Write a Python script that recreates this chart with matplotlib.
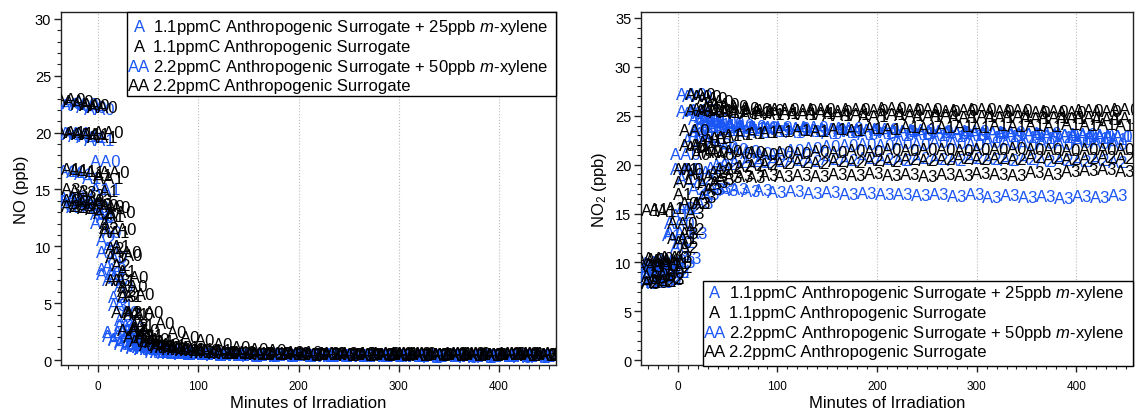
import matplotlib
matplotlib.use("Agg")
import matplotlib.pyplot as plt
from matplotlib.patches import Rectangle
from matplotlib.ticker import MultipleLocator

plt.rcParams['font.family'] = ['Liberation Sans', 'DejaVu Sans']
plt.rcParams['mathtext.fontset'] = 'custom'
plt.rcParams['mathtext.rm'] = 'Liberation Sans'
plt.rcParams['mathtext.it'] = 'Liberation Sans:italic'

BLUE = '#1a55f5'

# sampling times (minutes of irradiation)
t_blue = [-30, -22, -14, -6, 2, 8, 14, 20, 26, 32, 38, 44, 52, 62, 74, 86, 100,
          118, 136, 154, 172, 190, 208, 226, 244, 262, 280, 298, 316, 334, 352, 370, 388, 406, 424, 442]
t_black = [-27, -19, -11, -3, 5, 11, 17, 23, 29, 35, 41, 47, 56, 67, 79, 92, 107,
           125, 143, 161, 179, 197, 215, 233, 251, 269, 287, 305, 323, 341, 359, 377, 395, 413, 431, 449]

# NO (ppb)
no_blue_a0 = [13.9, 14.0, 13.8, 13.7, 13.4, 12.6, 11.2, 9.0, 6.5, 4.2, 2.8, 1.9, 1.3, 1.0, 0.8, 0.7, 0.6,
              0.5, 0.5, 0.4, 0.5, 0.4, 0.4, 0.5, 0.4, 0.4, 0.3, 0.4, 0.4, 0.3, 0.4, 0.3, 0.4, 0.3, 0.4, 0.4]
no_blue_a1 = [16.6, 16.5, 16.3, 16.0, 15.0, 12.5, 9.8, 7.2, 4.8, 3.0, 2.0, 1.4, 1.1, 0.9, 0.7, 0.6, 0.5,
              0.5, 0.4, 0.4, 0.3, 0.4, 0.4, 0.3, 0.4, 0.3, 0.3, 0.4, 0.3, 0.4, 0.3, 0.3, 0.4, 0.3, 0.3, 0.4]
no_blue_a2 = [13.5, 13.4, 13.6, 13.4, 12.8, 10.5, 8.2, 5.5, 3.5, 2.2, 1.5, 1.1, 0.9, 0.7, 0.6, 0.5, 0.5,
              0.4, 0.4, 0.3, 0.4, 0.3, 0.3, 0.4, 0.3, 0.3, 0.4, 0.3, 0.3, 0.2, 0.3, 0.3, 0.2, 0.3, 0.3, 0.2]
no_blue_a3 = [14.2, 14.3, 14.0, 13.6, 12.0, 9.5, 7.0, 4.8, 3.0, 2.0, 1.4, 1.1, 0.9, 0.7, 0.6, 0.5, 0.5,
              0.4, 0.4, 0.4, 0.3, 0.4, 0.3, 0.3, 0.4, 0.3, 0.3, 0.3, 0.4, 0.3, 0.3, 0.2, 0.3, 0.3, 0.2, 0.3]
no_blue_aa0 = [22.6, 22.4, 22.5, 22.2, 22.0, 17.5, 8.0, 2.4, 1.8, 1.5, 1.3, 1.1, 0.9, 0.8, 0.7, 0.6, 0.5,
               0.5, 0.4, 0.5, 0.4, 0.4, 0.5, 0.4, 0.4, 0.3, 0.4, 0.4, 0.3, 0.4, 0.4, 0.3, 0.4, 0.3, 0.4, 0.3]
no_blue_aa1 = [19.8, 19.9, 19.7, 19.6, 19.3, 15.0, 7.5, 2.1, 1.7, 1.4, 1.2, 1.0, 0.9, 0.7, 0.6, 0.6, 0.5,
               0.5, 0.4, 0.4, 0.5, 0.4, 0.4, 0.3, 0.4, 0.4, 0.3, 0.4, 0.3, 0.3, 0.4, 0.3, 0.3, 0.4, 0.3, 0.3]

no_black_a0 = [14.0, 13.9, 13.8, 13.8, 13.7, 13.6, 13.5, 13.4, 11.5, 9.2, 7.3, 5.8, 4.2, 3.2, 2.4, 2.0, 1.7,
               1.4, 1.1, 0.9, 0.8, 0.7, 0.7, 0.6, 0.6, 0.6, 0.5, 0.6, 0.5, 0.5, 0.6, 0.5, 0.5, 0.6, 0.5, 0.5]
no_black_a1 = [16.8, 16.7, 16.6, 16.5, 16.2, 14.8, 12.6, 10.0, 7.8, 5.6, 4.0, 3.0, 2.2, 1.6, 1.3, 1.1, 0.9,
               0.8, 0.7, 0.6, 0.6, 0.5, 0.5, 0.5, 0.4, 0.5, 0.4, 0.5, 0.4, 0.4, 0.5, 0.4, 0.4, 0.5, 0.4, 0.4]
no_black_a2 = [13.5, 13.4, 13.3, 13.2, 12.9, 11.6, 9.8, 8.3, 6.0, 4.2, 3.0, 2.2, 1.6, 1.2, 1.0, 0.8, 0.7,
               0.6, 0.6, 0.5, 0.5, 0.5, 0.4, 0.5, 0.4, 0.4, 0.5, 0.4, 0.4, 0.5, 0.4, 0.4, 0.4, 0.5, 0.4, 0.4]
no_black_a3 = [15.0, 14.8, 14.7, 14.5, 14.0, 12.0, 9.0, 7.0, 5.6, 4.0, 2.8, 2.0, 1.5, 1.1, 0.9, 0.8, 0.7,
               0.6, 0.6, 0.5, 0.5, 0.6, 0.5, 0.5, 0.5, 0.6, 0.5, 0.5, 0.6, 0.5, 0.5, 0.6, 0.5, 0.5, 0.6, 0.5]
no_black_aa0 = [22.9, 22.7, 22.5, 22.4, 22.2, 20.0, 16.5, 13.0, 9.5, 6.5, 4.0, 2.6, 1.8, 1.4, 1.1, 0.9, 0.8,
                0.7, 0.7, 0.6, 0.6, 0.6, 0.5, 0.6, 0.5, 0.5, 0.6, 0.5, 0.6, 0.5, 0.5, 0.6, 0.5, 0.6, 0.5, 0.6]
no_black_aa1 = [20.0, 19.9, 19.8, 19.8, 19.6, 16.0, 11.2, 7.0, 4.2, 2.6, 2.0, 1.6, 1.3, 1.1, 0.9, 0.8, 0.7,
                0.6, 0.6, 0.5, 0.6, 0.5, 0.5, 0.6, 0.5, 0.5, 0.5, 0.6, 0.5, 0.5, 0.6, 0.5, 0.5, 0.5, 0.6, 0.5]

# NO2 (ppb)
no2_blue_a0 = [9.2, 9.4, 9.3, 9.5, 11.5, 15.5, 19.5, 23.0, 23.2, 22.8, 22.4, 22.1, 21.8, 21.5, 21.3, 21.1, 21.0,
               21.4, 21.7, 21.9, 22.0, 22.1, 22.0, 22.2, 22.1, 22.3, 22.2, 22.1, 22.3, 22.2, 22.0, 22.2, 22.1, 22.3, 22.2, 22.1]
no2_blue_a1 = [8.5, 8.7, 8.6, 12.8, 14.8, 18.5, 22.5, 23.4, 23.8, 23.9, 23.8, 23.6, 23.5, 23.4, 23.5, 23.3, 23.4,
               23.3, 23.4, 23.2, 23.3, 23.1, 23.2, 23.0, 23.1, 23.0, 22.9, 23.0, 22.8, 22.9, 22.8, 22.7, 22.8, 22.6, 22.7, 22.6]
no2_blue_a2 = [8.0, 8.2, 8.1, 8.3, 9.0, 12.0, 15.5, 17.5, 18.5, 19.2, 19.6, 19.9, 20.0, 20.2, 20.3, 20.2, 20.3,
               20.4, 20.3, 20.5, 20.4, 20.6, 20.5, 20.4, 20.6, 20.5, 20.4, 20.6, 20.5, 20.4, 20.5, 20.3, 20.4, 20.3, 20.4, 20.2]
no2_blue_a3 = [7.8, 8.0, 7.9, 8.4, 9.0, 10.0, 10.4, 13.0, 16.0, 17.0, 17.5, 17.6, 17.4, 17.5, 17.3, 17.4, 17.2,
               17.3, 17.1, 17.2, 17.0, 17.1, 16.9, 17.0, 16.8, 16.9, 16.7, 16.9, 16.6, 16.8, 16.6, 16.7, 16.5, 16.7, 16.6, 16.8]
no2_blue_aa0 = [9.8, 9.9, 10.0, 10.2, 14.0, 21.0, 27.2, 27.0, 25.5, 24.8, 24.5, 24.3, 24.2, 24.0, 23.9, 23.8, 23.8,
                23.7, 23.8, 23.6, 23.7, 23.5, 23.6, 23.4, 23.5, 23.4, 23.3, 23.4, 23.2, 23.3, 23.1, 23.2, 23.0, 23.1, 23.0, 22.9]
no2_blue_aa1 = [9.0, 9.2, 9.1, 9.4, 13.0, 19.5, 25.4, 25.2, 24.6, 24.3, 24.1, 24.0, 23.9, 23.8, 23.7, 23.7, 23.6,
                23.6, 23.5, 23.6, 23.4, 23.5, 23.3, 23.4, 23.2, 23.3, 23.2, 23.1, 23.2, 23.0, 23.1, 22.9, 23.0, 22.9, 22.8, 22.9]

no2_black_a0 = [8.6, 8.8, 8.7, 9.0, 12.0, 16.0, 19.0, 21.0, 21.4, 21.2, 21.2, 21.0, 21.3, 21.1, 21.2, 21.0, 21.2,
                21.1, 21.3, 21.2, 21.4, 21.3, 21.5, 21.4, 21.6, 21.5, 21.4, 21.6, 21.5, 21.7, 21.5, 21.6, 21.4, 21.6, 21.5, 21.6]
no2_black_a1 = [15.3, 15.4, 15.2, 15.5, 17.0, 19.5, 21.8, 22.0, 22.3, 22.5, 22.7, 22.8, 23.0, 23.1, 23.2, 23.3, 23.4,
                23.5, 23.4, 23.6, 23.5, 23.7, 23.6, 23.8, 23.7, 23.8, 23.9, 23.8, 24.0, 23.9, 24.0, 23.9, 24.1, 24.0, 24.1, 24.0]
no2_black_a2 = [8.0, 8.2, 8.1, 8.4, 9.5, 11.5, 13.4, 16.0, 18.0, 18.8, 19.2, 19.5, 19.6, 19.8, 19.9, 20.0, 20.1,
                20.2, 20.1, 20.3, 20.2, 20.4, 20.3, 20.5, 20.4, 20.5, 20.6, 20.5, 20.6, 20.5, 20.7, 20.6, 20.5, 20.6, 20.7, 20.6]
no2_black_a3 = [7.8, 7.9, 8.1, 8.3, 10.5, 13.0, 15.0, 16.0, 16.6, 17.5, 18.2, 18.5, 18.7, 18.8, 18.7, 18.9, 18.8,
                18.9, 18.8, 19.0, 18.9, 19.1, 18.9, 19.0, 18.8, 19.0, 18.9, 19.1, 19.0, 18.9, 19.2, 19.0, 19.3, 19.4, 19.5, 19.3]
no2_black_aa0 = [10.3, 10.4, 10.2, 10.5, 14.0, 19.5, 23.5, 27.2, 27.0, 26.8, 26.5, 26.2, 25.9, 25.7, 25.6, 25.5, 25.6,
                 25.5, 25.6, 25.4, 25.6, 25.5, 25.7, 25.5, 25.6, 25.4, 25.5, 25.6, 25.4, 25.5, 25.3, 25.4, 25.3, 25.5, 25.4, 25.6]
no2_black_aa1 = [9.6, 9.8, 9.7, 9.9, 12.5, 18.2, 22.0, 25.5, 25.6, 25.4, 25.5, 25.3, 25.4, 25.2, 25.3, 25.1, 25.2,
                 25.1, 25.2, 25.0, 25.1, 24.9, 25.1, 25.0, 24.9, 25.0, 24.8, 24.9, 24.8, 24.9, 24.7, 24.8, 24.7, 24.8, 24.6, 24.7]

legend_marks = ['A', 'A', 'AA', 'AA']
legend_colors = [BLUE, 'black', BLUE, 'black']
legend_labels = ['1.1ppmC Anthropogenic Surrogate + 25ppb $\\it{m}$-xylene',
                 '1.1ppmC Anthropogenic Surrogate',
                 '2.2ppmC Anthropogenic Surrogate + 50ppb $\\it{m}$-xylene',
                 '2.2ppmC Anthropogenic Surrogate']

# (marker text, colour, times, NO, NO2)
series = [
    ('A0', BLUE, t_blue, no_blue_a0, no2_blue_a0),
    ('A1', BLUE, t_blue, no_blue_a1, no2_blue_a1),
    ('A2', BLUE, t_blue, no_blue_a2, no2_blue_a2),
    ('A3', BLUE, t_blue, no_blue_a3, no2_blue_a3),
    ('AA0', BLUE, t_blue, no_blue_aa0, no2_blue_aa0),
    ('AA1', BLUE, t_blue, no_blue_aa1, no2_blue_aa1),
    ('A0', 'black', t_black, no_black_a0, no2_black_a0),
    ('A1', 'black', t_black, no_black_a1, no2_black_a1),
    ('A2', 'black', t_black, no_black_a2, no2_black_a2),
    ('A3', 'black', t_black, no_black_a3, no2_black_a3),
    ('AA0', 'black', t_black, no_black_aa0, no2_black_aa0),
    ('AA1', 'black', t_black, no_black_aa1, no2_black_aa1),
]


def text_markers(ax, x, y, mark, color):
    for xi, yi in zip(x, y):
        ax.text(xi, yi, mark, color=color, fontsize=12, ha='center', va='center',
                clip_on=True, zorder=3)


def style_axes(ax, ylim, ylabel):
    ax.set_xlim(-37, 457)
    ax.set_ylim(*ylim)
    ax.xaxis.set_major_locator(MultipleLocator(100))
    ax.xaxis.set_minor_locator(MultipleLocator(10))
    ax.yaxis.set_major_locator(MultipleLocator(5))
    ax.yaxis.set_minor_locator(MultipleLocator(1))
    ax.tick_params(which='both', direction='out', top=False, right=False, color='#222222')
    ax.tick_params(which='major', length=5, width=1)
    ax.tick_params(which='minor', length=3, width=0.8)
    ax.tick_params(axis='x', labelsize=8.5, pad=6)
    ax.tick_params(axis='y', labelsize=10.5, pad=2)
    ax.grid(axis='x', which='major', linestyle=':', color='#bbbbbb', linewidth=0.8)
    ax.set_axisbelow(True)
    for sp in ax.spines.values():
        sp.set_color('#222222')
        sp.set_linewidth(1)
    ax.set_xlabel('Minutes of Irradiation', fontsize=12, labelpad=2)
    ax.set_ylabel(ylabel, fontsize=12, labelpad=4)


def draw_legend(ax, box, rows_y, mark_x, label_x):
    x0, y0, x1, y1 = box
    ax.add_patch(Rectangle((x0, y0), x1 - x0, y1 - y0, transform=ax.transAxes,
                           facecolor='white', edgecolor='black', linewidth=1,
                           clip_on=False, zorder=5))
    for yy, mk, col, lab in zip(rows_y, legend_marks, legend_colors, legend_labels):
        ax.text(mark_x, yy, mk, color=col, fontsize=12, ha='center', va='center',
                transform=ax.transAxes, zorder=6)
        ax.text(label_x, yy, lab, color='black', fontsize=12, ha='left', va='center',
                transform=ax.transAxes, zorder=6)


fig = plt.figure(figsize=(11.41, 4.10), dpi=100)
ax1 = fig.add_axes([0.0535, 0.107, 0.4338, 0.861])
ax2 = fig.add_axes([0.5618, 0.107, 0.4312, 0.861])

for mark, col, t, no, no2 in series:
    text_markers(ax1, t, no, mark, col)
    text_markers(ax2, t, no2, mark, col)

style_axes(ax1, (-0.45, 30.6), 'NO (ppb)')
style_axes(ax2, (-0.5, 35.6), 'NO$_2$ (ppb)')

draw_legend(ax1, (0.133, 0.762, 1.0, 1.0), [0.960, 0.904, 0.847, 0.793], 0.158, 0.186)
draw_legend(ax2, (0.126, -0.003, 1.0, 0.238), [0.207, 0.150, 0.093, 0.040], 0.150, 0.179)

fig.savefig('out.png', dpi=100)
